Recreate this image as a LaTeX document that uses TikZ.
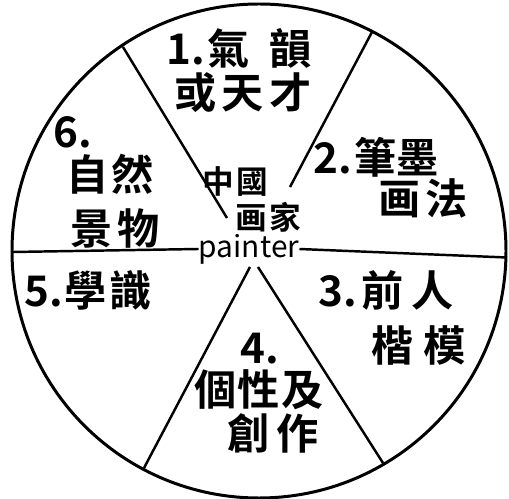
\documentclass[tikz,border=0pt]{standalone}
\usepackage{fontspec}
\newfontfamily\cjk{Noto Sans CJK TC}[BoldFont={Noto Sans CJK TC Bold}]
\usetikzlibrary{positioning}

\begin{document}
\begin{tikzpicture}[
  lbl/.style={font=\cjk\bfseries\fontsize{24}{26}\selectfont, inner sep=0pt},
  hub/.style={font=\cjk\bfseries\fontsize{18}{20}\selectfont, inner sep=0pt},
  rim/.style={line width=1.7pt},
  spoke/.style={line width=1.4pt}]
  \useasboundingbox (0,0) rectangle (10.18,9.98);
  \draw[rim] (5.18,4.96) circle (4.94);

  % centre
  \node[hub] (zhongguo) at (4.70,6.34) {中\hspace{0.05cm}國};
  \node[hub] (huajia) at (5.36,5.64) {画\hspace{0.05cm}家};
  \node[hub,font=\cjk\fontsize{17}{18}\selectfont] (painter) at (4.98,5.0) {painter};

  % spokes
  \draw[spoke] (0.24,4.94) -- (painter.west);
  \draw[spoke] (painter.east) -- (10.14,4.83);
  \draw[spoke] (2.46,9.04) -- (4.54,5.62);
  \draw[spoke] (7.44,9.34) -- (5.80,6.24);
  \draw[spoke] (5.16,4.64) -- (7.66,0.72);
  \draw[spoke] (5.00,4.64) -- (2.88,0.62);

  % sectors
  \node[lbl] (qiyun) at (4.78,9.02) {1.\hspace{0.05cm}氣\hspace{0.4cm}韻};
  \node[lbl] (tiancai) at (4.86,8.12) {或\hspace{0.1cm}天\hspace{0.1cm}才};
  \node[lbl] (bimo) at (7.52,6.84) {2.\hspace{0.05cm}筆墨};
  \node[lbl] (huafa) at (8.46,6.02) {画\hspace{0.1cm}法};
  \node[lbl] (qianren) at (7.72,4.18) {3.\hspace{0.1cm}前\hspace{0.15cm}人};
  \node[lbl] (kaimo) at (8.38,3.08) {楷\hspace{0.2cm}模};
  \node[lbl] (num4) at (5.20,3.0) {4.};
  \node[lbl] (gexing) at (5.18,2.18) {個\hspace{0.02cm}性\hspace{0.02cm}及};
  \node[lbl] (chuangzuo) at (5.46,1.32) {創\hspace{0.15cm}作};
  \node[lbl] (xueshi) at (1.76,4.18) {5.\hspace{0.02cm}學\hspace{0.05cm}識};
  \node[lbl] (num6) at (1.46,7.34) {6.};
  \node[lbl] (ziran) at (2.20,6.50) {自\hspace{0.05cm}然};
  \node[lbl] (jingwu) at (2.30,5.42) {景\hspace{0.1cm}物};
\end{tikzpicture}
\end{document}
